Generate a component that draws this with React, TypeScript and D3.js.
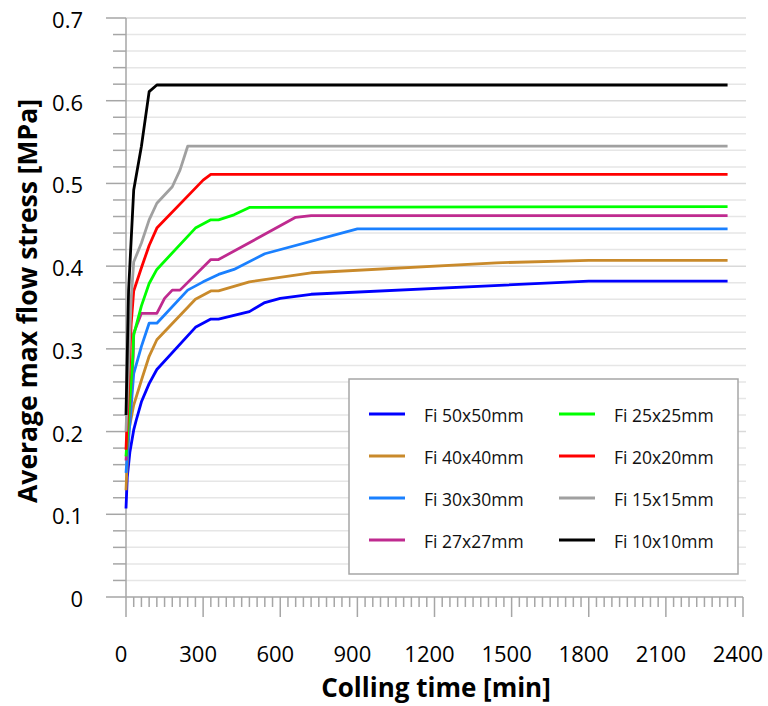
import React, { useEffect, useRef } from 'react'
import * as d3 from 'd3'

// cooling time [min] and average max flow stress [MPa] per specimen size
const fi50Time = [0, 5, 15, 30, 40, 60, 90, 120, 270, 330, 360, 480, 540, 600, 720, 1800, 2340]
const fi50Stress = [0.107, 0.145, 0.175, 0.202, 0.214, 0.236, 0.258, 0.275, 0.326, 0.336, 0.336, 0.345, 0.356, 0.361, 0.366, 0.382, 0.382]

const fi40Time = [0, 10, 30, 60, 90, 120, 270, 330, 360, 480, 720, 1440, 1800, 2340]
const fi40Stress = [0.129, 0.2, 0.232, 0.262, 0.291, 0.311, 0.36, 0.37, 0.37, 0.381, 0.392, 0.404, 0.407, 0.407]

const fi30Time = [0, 30, 60, 90, 120, 240, 300, 360, 420, 540, 900, 2340]
const fi30Stress = [0.15, 0.27, 0.303, 0.331, 0.331, 0.371, 0.381, 0.39, 0.396, 0.415, 0.445, 0.445]

const fi27Time = [0, 28, 30, 60, 120, 150, 180, 210, 330, 360, 660, 720, 2340]
const fi27Stress = [0.165, 0.29, 0.319, 0.343, 0.343, 0.361, 0.371, 0.371, 0.408, 0.408, 0.459, 0.461, 0.461]

const fi25Time = [0, 25, 30, 60, 90, 120, 270, 330, 360, 420, 480, 2340]
const fi25Stress = [0.17, 0.283, 0.317, 0.352, 0.379, 0.396, 0.446, 0.456, 0.456, 0.462, 0.471, 0.472]

const fi20Time = [0, 20, 30, 60, 90, 120, 300, 330, 2340]
const fi20Stress = [0.178, 0.33, 0.37, 0.398, 0.425, 0.446, 0.504, 0.511, 0.511]

const fi15Time = [0, 20, 30, 60, 90, 120, 180, 210, 240, 2340]
const fi15Stress = [0.2, 0.36, 0.405, 0.428, 0.456, 0.476, 0.496, 0.516, 0.545, 0.545]

const fi10Time = [0, 10, 30, 60, 90, 120, 2340]
const fi10Stress = [0.22, 0.37, 0.492, 0.545, 0.611, 0.619, 0.619]

const seriesNames = ['Fi 50x50mm', 'Fi 40x40mm', 'Fi 30x30mm', 'Fi 27x27mm', 'Fi 25x25mm', 'Fi 20x20mm', 'Fi 15x15mm', 'Fi 10x10mm']
const seriesTimes = [fi50Time, fi40Time, fi30Time, fi27Time, fi25Time, fi20Time, fi15Time, fi10Time]
const seriesStress = [fi50Stress, fi40Stress, fi30Stress, fi27Stress, fi25Stress, fi20Stress, fi15Stress, fi10Stress]
const seriesColors = ['#0000ff', '#c98a2b', '#1a80ff', '#bf2a8f', '#00ff00', '#ff0000', '#a0a0a0', '#000000']

const xTicks = [0, 300, 600, 900, 1200, 1500, 1800, 2100, 2400]
const yTicks = [0, 0.1, 0.2, 0.3, 0.4, 0.5, 0.6, 0.7]

const width = 768
const height = 706
const font = '"Open Sans", sans-serif'
const axisColor = '#a6a6a6'

function App() {
	const svgRef = useRef(null)

	useEffect(() => {
		const svg = d3.select(svgRef.current)
		svg.selectAll('*').remove()

		const x = d3.scaleLinear().domain([0, 2400]).range([126, 743])
		const y = d3.scaleLinear().domain([0, 0.7]).range([597, 18])

		// horizontal gridlines every 0.02
		const gridVals = d3.range(1, 36).map((i) => i * 0.02)
		svg.append('g')
			.selectAll('line')
			.data(gridVals)
			.join('line')
			.attr('x1', x(0))
			.attr('x2', x(2400) + 3)
			.attr('y1', (d) => y(d))
			.attr('y2', (d) => y(d))
			.attr('stroke', (d, i) => ((i + 1) % 5 === 0 ? '#d9d9d9' : '#e6e6e6'))
			.attr('stroke-width', 1.5)

		// y ticks
		const yMinor = d3.range(0, 36).map((i) => i * 0.02)
		svg.append('g')
			.selectAll('line')
			.data(yMinor)
			.join('line')
			.attr('x1', (d, i) => (i % 5 === 0 ? x(0) - 20 : x(0) - 13))
			.attr('x2', x(0))
			.attr('y1', (d) => y(d))
			.attr('y2', (d) => y(d))
			.attr('stroke', axisColor)
			.attr('stroke-width', 1.5)

		// x ticks
		const xMinor = d3.range(0, 81).map((i) => i * 30)
		svg.append('g')
			.selectAll('line')
			.data(xMinor)
			.join('line')
			.attr('x1', (d) => x(d))
			.attr('x2', (d) => x(d))
			.attr('y1', y(0))
			.attr('y2', (d, i) => (i % 10 === 0 ? y(0) + 20 : y(0) + 10))
			.attr('stroke', axisColor)
			.attr('stroke-width', 1.5)

		// axis lines
		svg.append('line')
			.attr('x1', x(0)).attr('x2', x(0))
			.attr('y1', y(0.7)).attr('y2', y(0))
			.attr('stroke', axisColor).attr('stroke-width', 1.5)
		svg.append('line')
			.attr('x1', x(0)).attr('x2', x(2400))
			.attr('y1', y(0)).attr('y2', y(0))
			.attr('stroke', axisColor).attr('stroke-width', 1.5)

		// tick labels
		svg.append('g')
			.selectAll('text')
			.data(yTicks)
			.join('text')
			.attr('x', 83)
			.attr('y', (d) => y(d) + 1)
			.attr('text-anchor', 'end')
			.attr('dominant-baseline', 'central')
			.attr('font-family', font)
			.attr('font-size', 22)
			.attr('fill', '#000')
			.text((d) => (d === 0 ? '0' : d3.format('.1f')(d)))

		svg.append('g')
			.selectAll('text')
			.data(xTicks)
			.join('text')
			.attr('x', (d) => x(d) - 5)
			.attr('y', 653)
			.attr('text-anchor', 'middle')
			.attr('dominant-baseline', 'central')
			.attr('font-family', font)
			.attr('font-size', 22)
			.attr('fill', '#000')
			.text((d) => d)

		// axis titles
		svg.append('text')
			.attr('x', 436)
			.attr('y', 687)
			.attr('text-anchor', 'middle')
			.attr('dominant-baseline', 'central')
			.attr('font-family', font)
			.attr('font-weight', 'bold')
			.attr('font-size', 26)
			.text('Colling time [min]')

		svg.append('text')
			.attr('transform', 'translate(27,301) rotate(-90)')
			.attr('text-anchor', 'middle')
			.attr('dominant-baseline', 'central')
			.attr('font-family', font)
			.attr('font-weight', 'bold')
			.attr('font-size', 26.5)
			.text('Average max flow stress [MPa]')

		// series
		const line = d3.line()
			.x((d) => x(d[0]))
			.y((d) => y(d[1]))
		seriesNames.forEach((name, s) => {
			const pts = seriesTimes[s].map((t, i) => [t, seriesStress[s][i]])
			svg.append('path')
				.attr('d', line(pts))
				.attr('fill', 'none')
				.attr('stroke', seriesColors[s])
				.attr('stroke-width', 2.8)
				.attr('stroke-linejoin', 'round')
		})

		// legend
		const lg = svg.append('g')
		lg.append('rect')
			.attr('x', 349).attr('y', 379)
			.attr('width', 389).attr('height', 195)
			.attr('fill', 'white')
			.attr('stroke', axisColor)
			.attr('stroke-width', 1.5)
		seriesNames.forEach((name, s) => {
			const col = Math.floor(s / 4)
			const row = s % 4
			const lx = 369 + col * 190
			const ly = 414 + row * 42
			lg.append('line')
				.attr('x1', lx).attr('x2', lx + 36)
				.attr('y1', ly).attr('y2', ly)
				.attr('stroke', seriesColors[s])
				.attr('stroke-width', 2.8)
			lg.append('text')
				.attr('x', lx + 55)
				.attr('y', ly + 1)
				.attr('dominant-baseline', 'central')
				.attr('font-family', font)
				.attr('font-size', 17.5)
				.attr('fill', '#111')
				.text(name)
		})
	}, [])

	return (
		<svg ref={svgRef} width={width} height={height}
			style={{ position: 'absolute', left: 0, top: 0, background: 'white' }}>
		</svg>
	)
}

export default App
